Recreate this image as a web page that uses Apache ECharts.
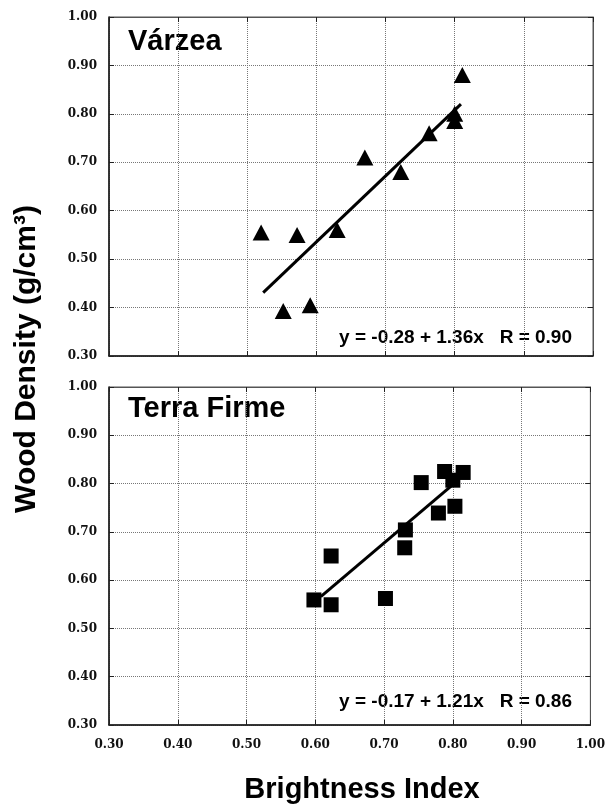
<!DOCTYPE html>
<html>
<head>
<meta charset="utf-8">
<script src="https://cdn.jsdelivr.net/npm/echarts@6/dist/echarts.min.js"></script>
<style>
  html, body { margin: 0; padding: 0; background: #fff; }
  #chart { width: 608px; height: 807px; }
</style>
</head>
<body>
<div id="chart"></div>
<script>
// axis ticks (both panels share the same range)
const tickMin = 0.3;
const tickMax = 1.0;
const tickStep = 0.1;

// Várzea panel
const varzeaX = [0.52, 0.572, 0.552, 0.591, 0.63, 0.67, 0.722, 0.763, 0.80, 0.80, 0.811];
const varzeaY = [0.555, 0.55, 0.393, 0.405, 0.56, 0.71, 0.68, 0.76, 0.80, 0.785, 0.88];
const varzeaFit = [[0.523, 0.431], [0.809, 0.82]];
const varzeaEq = 'y = -0.28 + 1.36x   R = 0.90';

// Terra Firme panel
const terraX = [0.598, 0.623, 0.623, 0.702, 0.731, 0.73, 0.754, 0.779, 0.788, 0.803, 0.80, 0.815];
const terraY = [0.559, 0.549, 0.65, 0.562, 0.704, 0.667, 0.802, 0.739, 0.825, 0.753, 0.807, 0.823];
const terraFit = [[0.608, 0.566], [0.80, 0.798]];
const terraEq = 'y = -0.17 + 1.21x   R = 0.86';

const pairs = (xs, ys) => xs.map((x, i) => [x, ys[i]]);

const tickFont = {
    fontFamily: 'DejaVu Serif',
    fontWeight: 'bold',
    fontSize: 12,
    color: '#111'
};
const sansBold = 'Liberation Sans, Arial, sans-serif';

function valueAxis(grid, pos, showLabels, showGrid) {
    let main = (pos == 'left' || pos == 'bottom');
    return {
        type: 'value',
        gridIndex: grid,
        position: pos,
        min: tickMin,
        max: tickMax,
        interval: tickStep,
        axisLine: { show: true, onZero: false, lineStyle: { color: main ? '#111' : '#555', width: main ? 1.5 : 1 } },
        axisTick: { show: true, inside: true, length: 5, lineStyle: { color: '#222' } },
        axisLabel: Object.assign({
            show: showLabels,
            margin: pos == 'bottom' ? 14 : 12,
            formatter: v => v.toFixed(2)
        }, tickFont),
        splitLine: { show: showGrid, lineStyle: { type: 'dotted', color: '#777', width: 1 } }
    };
}

let chart = echarts.init(document.getElementById('chart'));
chart.setOption({
    animation: false,
    backgroundColor: '#fff',
    grid: [
        { left: 109, top: 17, width: 484, height: 339, show: true, borderColor: '#555', borderWidth: 1 },
        { left: 109, top: 387, width: 484, height: 338, show: true, borderColor: '#555', borderWidth: 1 }
    ],
    xAxis: [
        valueAxis(0, 'bottom', false, true),
        valueAxis(1, 'bottom', true, true),
        valueAxis(0, 'top', false, false),
        valueAxis(1, 'top', false, false)
    ],
    yAxis: [
        valueAxis(0, 'left', true, true),
        valueAxis(1, 'left', true, true),
        valueAxis(0, 'right', false, false),
        valueAxis(1, 'right', false, false)
    ],
    series: [
        {
            name: 'Várzea',
            type: 'scatter',
            xAxisIndex: 0, yAxisIndex: 0,
            symbol: 'triangle',
            symbolSize: [17, 16],
            itemStyle: { color: '#000', opacity: 1 },
            data: pairs(varzeaX, varzeaY)
        },
        {
            type: 'line',
            xAxisIndex: 0, yAxisIndex: 0,
            showSymbol: false,
            lineStyle: { color: '#000', width: 3 },
            data: varzeaFit
        },
        {
            name: 'Terra Firme',
            type: 'scatter',
            xAxisIndex: 1, yAxisIndex: 1,
            symbol: 'rect',
            symbolSize: 15,
            itemStyle: { color: '#000', opacity: 1 },
            data: pairs(terraX, terraY)
        },
        {
            type: 'line',
            xAxisIndex: 1, yAxisIndex: 1,
            showSymbol: false,
            lineStyle: { color: '#000', width: 3 },
            data: terraFit
        }
    ],
    graphic: [
        { type: 'text', left: 128, top: 27, style: { text: 'Várzea', font: 'bold 29px ' + sansBold, fill: '#000' } },
        { type: 'text', left: 128, top: 394, style: { text: 'Terra Firme', font: 'bold 29px ' + sansBold, fill: '#000' } },
        { type: 'text', x: 572, y: 338, style: { text: varzeaEq, font: 'bold 19px ' + sansBold, fill: '#000', textAlign: 'right', textVerticalAlign: 'middle' } },
        { type: 'text', x: 572, y: 702, style: { text: terraEq, font: 'bold 19px ' + sansBold, fill: '#000', textAlign: 'right', textVerticalAlign: 'middle' } },
        { type: 'text', x: 27, y: 359, rotation: Math.PI / 2, style: { text: 'Wood Density (g/cm³)', font: 'bold 30px ' + sansBold, fill: '#000', textAlign: 'center', textVerticalAlign: 'middle' } },
        { type: 'text', x: 362, y: 790, style: { text: 'Brightness Index', font: 'bold 29px ' + sansBold, fill: '#000', textAlign: 'center', textVerticalAlign: 'middle' } }
    ]
});
</script>
</body>
</html>
